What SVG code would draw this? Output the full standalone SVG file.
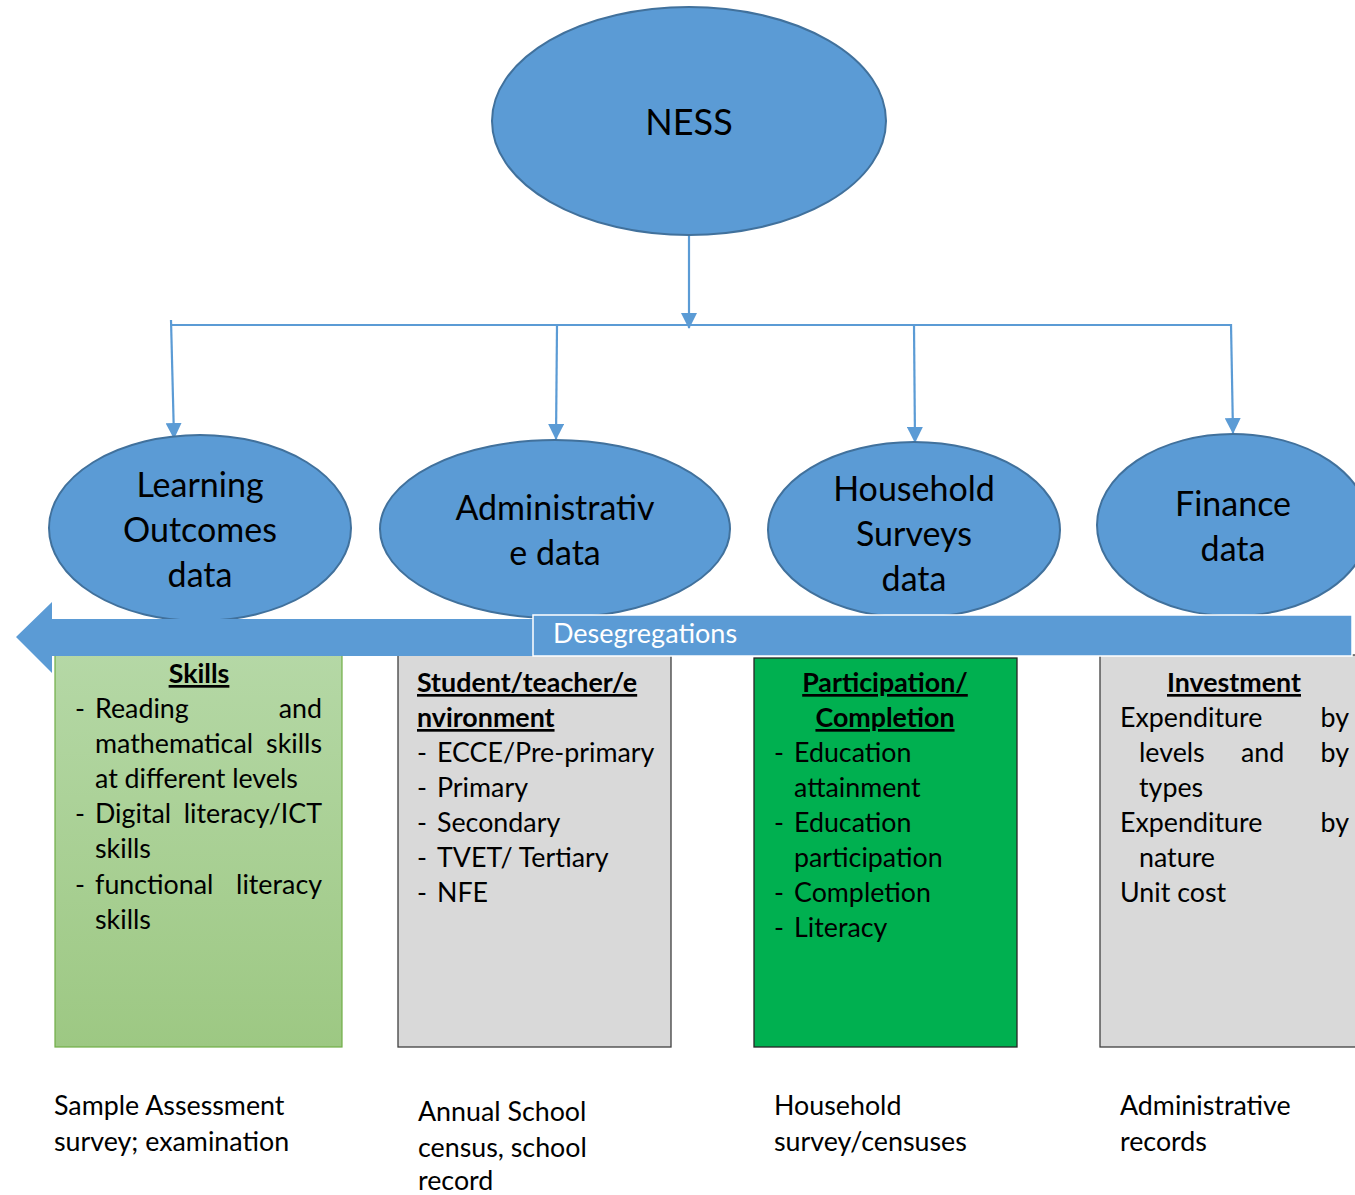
<svg xmlns="http://www.w3.org/2000/svg" width="1355" height="1195" viewBox="0 0 1355 1195">
  <defs>
    <style>
      text { font-family: Lato, "Open Sans", sans-serif; fill: #000; }
      .node { fill: #5B9BD5; stroke: #41719C; stroke-width: 2; }
      .big { font-size: 34px; text-anchor: middle; }
      .body { font-size: 26.8px; }
      .head { font-size: 26.8px; font-weight: bold; text-decoration: underline; }
      .mid { text-anchor: middle; }
      .end { text-anchor: end; }
      .conn { stroke: #5B9BD5; stroke-width: 2.2; fill: none; }
      .gray { fill: #D9D9D9; stroke: #404040; stroke-width: 1.3; }
    </style>
    <marker id="arrow" markerUnits="userSpaceOnUse" markerWidth="16" markerHeight="16" viewBox="0 0 16 16" refX="15" refY="8" orient="auto">
      <path d="M0,0 L16,8 L0,16 Z" fill="#5B9BD5"/>
    </marker>
    <linearGradient id="skillsFill" x1="0" y1="0" x2="0" y2="1">
      <stop offset="0" stop-color="#B5D8A6"/>
      <stop offset="1" stop-color="#9DC883"/>
    </linearGradient>
  </defs>

  <!-- top node -->
  <g id="ness">
    <ellipse class="node" cx="689" cy="121" rx="197" ry="114"/>
    <text x="689" y="135" font-size="36" text-anchor="middle">NESS</text>
  </g>

  <!-- connectors -->
  <g id="connectors">
    <path class="conn" d="M689,236 L689,328" marker-end="url(#arrow)"/>
    <path class="conn" d="M172,325 L1231,325" stroke-width="1.6"/>
    <path class="conn" d="M171,320 L174,438" marker-end="url(#arrow)"/>
    <path class="conn" d="M557,326 L556,439" marker-end="url(#arrow)"/>
    <path class="conn" d="M914,326 L915,442" marker-end="url(#arrow)"/>
    <path class="conn" d="M1231,324 L1233,433" marker-end="url(#arrow)"/>
  </g>

  <!-- data source nodes -->
  <g id="learning">
    <ellipse class="node" cx="200" cy="528" rx="151" ry="93"/>
    <text class="big" x="200" y="497">Learning</text>
    <text class="big" x="200" y="542">Outcomes</text>
    <text class="big" x="200" y="587">data</text>
  </g>
  <g id="administrative">
    <ellipse class="node" cx="555" cy="529" rx="175" ry="89"/>
    <text class="big" x="555" y="520">Administrativ</text>
    <text class="big" x="555" y="565">e data</text>
  </g>
  <g id="household">
    <ellipse class="node" cx="914" cy="530" rx="146" ry="88"/>
    <text class="big" x="914" y="501">Household</text>
    <text class="big" x="914" y="546">Surveys</text>
    <text class="big" x="914" y="591">data</text>
  </g>
  <g id="finance">
    <ellipse class="node" cx="1233" cy="525" rx="136" ry="91"/>
    <text class="big" x="1233" y="516">Finance</text>
    <text class="big" x="1233" y="561">data</text>
  </g>

  <!-- content boxes -->
  <g id="skills">
    <rect x="55" y="650" width="287" height="397" fill="url(#skillsFill)" stroke="#70AD47" stroke-width="1.2"/>
    <text class="head mid" x="199" y="683">Skills</text>
    <text class="body" x="75" y="718">-</text>
    <text class="body" x="95" y="718">Reading</text>
    <text class="body end" x="322" y="718">and</text>
    <text class="body" x="95" y="753">mathematical</text>
    <text class="body end" x="322" y="753">skills</text>
    <text class="body" x="95" y="788">at different levels</text>
    <text class="body" x="75" y="823">-</text>
    <text class="body" x="95" y="823">Digital</text>
    <text class="body end" x="322" y="823">literacy/ICT</text>
    <text class="body" x="95" y="858">skills</text>
    <text class="body" x="75" y="894">-</text>
    <text class="body" x="95" y="894">functional</text>
    <text class="body end" x="322" y="894">literacy</text>
    <text class="body" x="95" y="929">skills</text>
  </g>

  <g id="environment">
    <rect class="gray" x="398" y="652" width="273" height="395"/>
    <text class="head" x="417" y="692">Student/teacher/e</text>
    <text class="head" x="417" y="727">nvironment</text>
    <text class="body" x="417" y="762">-</text>
    <text class="body" x="437" y="762">ECCE/Pre-primary</text>
    <text class="body" x="417" y="797">-</text>
    <text class="body" x="437" y="797">Primary</text>
    <text class="body" x="417" y="832">-</text>
    <text class="body" x="437" y="832">Secondary</text>
    <text class="body" x="417" y="867">-</text>
    <text class="body" x="437" y="867">TVET/ Tertiary</text>
    <text class="body" x="417" y="902">-</text>
    <text class="body" x="437" y="902">NFE</text>
  </g>

  <g id="participation">
    <rect x="754" y="658" width="263" height="389" fill="#00B050" stroke="#262626" stroke-width="1.3"/>
    <text class="head mid" x="885" y="692">Participation/</text>
    <text class="head mid" x="885" y="727">Completion</text>
    <text class="body" x="774" y="762">-</text>
    <text class="body" x="794" y="762">Education</text>
    <text class="body" x="794" y="797">attainment</text>
    <text class="body" x="774" y="832">-</text>
    <text class="body" x="794" y="832">Education</text>
    <text class="body" x="794" y="867">participation</text>
    <text class="body" x="774" y="902">-</text>
    <text class="body" x="794" y="902">Completion</text>
    <text class="body" x="774" y="937">-</text>
    <text class="body" x="794" y="937">Literacy</text>
  </g>

  <g id="investment">
    <rect class="gray" x="1100" y="655" width="262" height="392"/>
    <text class="head mid" x="1234" y="692">Investment</text>
    <text class="body" x="1120" y="727">Expenditure</text>
    <text class="body end" x="1349" y="727">by</text>
    <text class="body" x="1139" y="762">levels</text>
    <text class="body" x="1241" y="762">and</text>
    <text class="body end" x="1349" y="762">by</text>
    <text class="body" x="1139" y="797">types</text>
    <text class="body" x="1120" y="832">Expenditure</text>
    <text class="body end" x="1349" y="832">by</text>
    <text class="body" x="1139" y="867">nature</text>
    <text class="body" x="1120" y="902">Unit cost</text>
  </g>

  <!-- disaggregation band (left-pointing block arrow with label box) -->
  <g id="desegregations">
    <path d="M16,637 L52,602 L52,619 L1352,619 L1352,656 L52,656 L52,673 Z" fill="#5B9BD5"/>
    <rect x="533" y="615" width="819" height="41" fill="#5B9BD5" stroke="#FFFFFF" stroke-width="1.5"/>
    <text x="553" y="643" font-size="27" style="fill:#FFFFFF">Desegregations</text>
  </g>

  <!-- source captions -->
  <g id="captions">
    <text class="body" x="54" y="1115">Sample Assessment</text>
    <text class="body" x="54" y="1151">survey; examination</text>
    <text class="body" x="418" y="1121">Annual School</text>
    <text class="body" x="418" y="1157">census, school</text>
    <text class="body" x="418" y="1190">record</text>
    <text class="body" x="774" y="1115">Household</text>
    <text class="body" x="774" y="1151">survey/censuses</text>
    <text class="body" x="1120" y="1115">Administrative</text>
    <text class="body" x="1120" y="1151">records</text>
  </g>
</svg>
